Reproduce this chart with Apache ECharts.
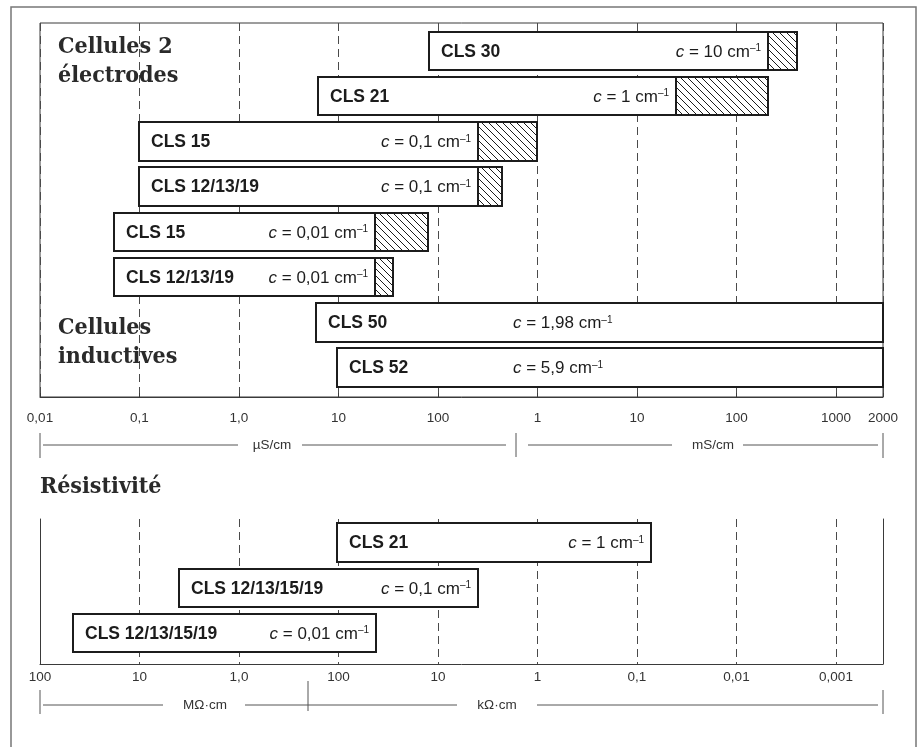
<!DOCTYPE html>
<html><head><meta charset="utf-8">
<script src="https://cdn.jsdelivr.net/npm/echarts@6/dist/echarts.min.js"></script>
<style>html,body{margin:0;padding:0;background:#fff}#c{width:919px;height:747px}</style>
</head><body><div id="c"></div>
<script>
// ================= DATA =================
// Conductivity panel (values in µS/cm)
const condCells      = ['CLS 30', 'CLS 21', 'CLS 15', 'CLS 12/13/19', 'CLS 15', 'CLS 12/13/19', 'CLS 50', 'CLS 52'];
const condConstants  = ['10', '1', '0,1', '0,1', '0,01', '0,01', '1,98', '5,9'];
const condLow        = [82, 6.2, 0.1, 0.1, 0.056, 0.056, 6.0, 9.7];
const condHatchStart = [209000, 24700, 250, 250, 23.4, 23.4, null, null];
const condHigh       = [403000, 209000, 1000, 437, 80, 35.5, 2970000, 2970000];
const condGroupTitles = [['Cellules 2', 'électrodes'], ['Cellules', 'inductives']];

const condTickValues = [0.01, 0.1, 1, 10, 100, 1000, 10000, 100000, 1000000];
const condTickLabels = ['0,01', '0,1', '1,0', '10', '100', '1', '10', '100', '1000'];
const condAxisMax    = 2970000;
const condEndLabel   = '2000';
const condUnitSplit  = 608;           // boundary between µS/cm and mS/cm brackets
const condUnits      = ['µS/cm', 'mS/cm'];

// Resistivity panel (values in kΩ·cm)
const resTitle       = 'Résistivité';
const resCells       = ['CLS 21', 'CLS 12/13/15/19', 'CLS 12/13/15/19'];
const resConstants   = ['1', '0,1', '0,01'];
const resHigh        = [103, 4000, 46600];
const resLow         = [0.072, 3.96, 42];
const resTickValues  = [100000, 10000, 1000, 100, 10, 1, 0.1, 0.01, 0.001];
const resTickLabels  = ['100', '10', '1,0', '100', '10', '1', '0,1', '0,01', '0,001'];
const resAxisMin     = 0.000337;
const resAxisMax     = 100000;
const resUnitSplit   = 203;
const resUnits       = ['MΩ·cm', 'kΩ·cm'];

// ================= STYLE =================
const FONT = '"Liberation Sans", Arial, Helvetica, sans-serif';
const SERIF = '"DejaVu Serif Condensed", "DejaVu Serif", serif';
const INK = '#1c1c1c';
const AXIS = '#3a3a3a';
const BAR_HALF = 0.425;
const HATCH_STEP = 7;
const INDUCTIVE_C_X = 513;

function tickFormatter(vals, labels, extraVal, extraLabel) {
  return function (v) {
    const lv = Math.log10(v);
    for (let i = 0; i < vals.length; i++) {
      if (Math.abs(lv - Math.log10(vals[i])) < 1e-4) return labels[i];
    }
    if (extraVal != null && Math.abs(lv - Math.log10(extraVal)) < 1e-3) return extraLabel;
    return '';
  };
}

function makeRender(names, consts, hatchStarts, noHatchMode) {
  return function (params, api) {
    const i = params.dataIndex;
    const row = api.value(2);
    const a = api.coord([api.value(0), row - BAR_HALF]);
    const b = api.coord([api.value(1), row + BAR_HALF]);
    const x0 = Math.round(Math.min(a[0], b[0])), x1 = Math.round(Math.max(a[0], b[0]));
    const y0 = Math.round(Math.min(a[1], b[1])), y1 = Math.round(Math.max(a[1], b[1]));
    const cy = (y0 + y1) / 2;
    const hs = hatchStarts ? hatchStarts[i] : null;
    const xh = hs != null ? Math.round(api.coord([hs, row])[0]) : x1;
    const children = [];
    children.push({ type: 'rect', shape: { x: x0, y: y0, width: x1 - x0, height: y1 - y0 },
      style: { fill: '#fff', stroke: null } });
    if (hs != null) {
      const h = y1 - y0;
      for (let t = xh - h; t < x1; t += HATCH_STEP) {
        const s0 = Math.max(0, xh - t), s1 = Math.min(h, x1 - t);
        if (s1 > s0) {
          children.push({ type: 'line', shape: { x1: t + s0, y1: y0 + s0, x2: t + s1, y2: y0 + s1 },
            style: { stroke: INK, lineWidth: 1 } });
        }
      }
      children.push({ type: 'line', shape: { x1: xh, y1: y0, x2: xh, y2: y1 },
        style: { stroke: INK, lineWidth: 2 } });
    }
    children.push({ type: 'rect', shape: { x: x0, y: y0, width: x1 - x0, height: y1 - y0 },
      style: { fill: null, stroke: INK, lineWidth: 2 } });
    children.push({ type: 'text', style: {
      text: names[i], x: x0 + 12, y: cy + 1, align: 'left', verticalAlign: 'middle',
      fontSize: 17.5, fontWeight: 'bold', fontFamily: FONT, fill: INK } });
    let cx, al;
    if (hs != null) { cx = xh - 7; al = 'right'; }
    else if (noHatchMode === 'fixed') { cx = INDUCTIVE_C_X; al = 'left'; }
    else { cx = x1 - 7; al = 'right'; }
    children.push({ type: 'text', style: {
      text: '{i|c}{n| = ' + consts[i] + ' cm}{s|–1}', x: cx, y: cy + 1, align: al, verticalAlign: 'middle',
      fill: INK, fontSize: 17, fontFamily: FONT,
      rich: {
        i: { fontStyle: 'italic', fontSize: 17, fontFamily: FONT, fill: INK },
        n: { fontSize: 17, fontFamily: FONT, fill: INK },
        s: { fontSize: 10, fontFamily: FONT, fill: INK, verticalAlign: 'top' }
      } } });
    return { type: 'group', children: children };
  };
}

const chart = echarts.init(document.getElementById('c'), null, { renderer: 'canvas' });

const dashed = { show: true, lineStyle: { color: '#4a4a4a', width: 1, type: [8, 5] } };

chart.setOption({
  animation: false,
  backgroundColor: '#fff',
  grid: [
    { left: 40, top: 23, width: 843, height: 374, show: true, borderColor: AXIS, borderWidth: 1,
      backgroundColor: 'transparent', outerBoundsMode: 'none', containLabel: false },
    { left: 40, top: 519, width: 843, height: 145, show: false, outerBoundsMode: 'none', containLabel: false }
  ],
  xAxis: [
    { gridIndex: 0, type: 'log', logBase: 10, min: 0.01, max: condAxisMax, splitNumber: 10,
      axisLine: { show: true, onZero: false, lineStyle: { color: AXIS, width: 1 } },
      axisTick: { show: true, inside: true, length: 4, lineStyle: { color: AXIS } },
      axisLabel: { show: true, margin: 14, fontSize: 13.5, fontFamily: FONT, color: '#333',
        showMinLabel: true, showMaxLabel: true, hideOverlap: false,
        formatter: tickFormatter(condTickValues, condTickLabels, condAxisMax, condEndLabel) },
      splitLine: dashed, minorTick: { show: false }, minorSplitLine: { show: false } },
    { gridIndex: 1, type: 'log', logBase: 10, inverse: true, min: resAxisMin, max: resAxisMax, splitNumber: 10,
      axisLine: { show: true, onZero: false, lineStyle: { color: AXIS, width: 1 } },
      axisTick: { show: false },
      axisLabel: { show: true, margin: 6, fontSize: 13.5, fontFamily: FONT, color: '#333',
        showMinLabel: true, showMaxLabel: true, hideOverlap: false,
        formatter: tickFormatter(resTickValues, resTickLabels) },
      splitLine: dashed }
  ],
  yAxis: [
    { gridIndex: 0, type: 'value', inverse: true, min: -0.62, max: 7.65, show: false },
    { gridIndex: 1, type: 'value', inverse: true, min: -0.52, max: 2.68, position: 'left',
      axisLine: { show: true, onZero: false, lineStyle: { color: AXIS, width: 1 } }, axisTick: { show: false },
      axisLabel: { show: false }, splitLine: { show: false } },
    { gridIndex: 1, type: 'value', inverse: true, min: -0.52, max: 2.68, position: 'right',
      axisLine: { show: true, onZero: false, lineStyle: { color: AXIS, width: 1 } }, axisTick: { show: false },
      axisLabel: { show: false }, splitLine: { show: false } }
  ],
  series: [
    { type: 'custom', xAxisIndex: 0, yAxisIndex: 0, clip: false,
      data: condCells.map((n, i) => [condLow[i], condHigh[i], i]),
      encode: { x: [0, 1], y: 2 },
      renderItem: makeRender(condCells, condConstants, condHatchStart, 'fixed') },
    { type: 'custom', xAxisIndex: 1, yAxisIndex: 1, clip: false,
      data: resCells.map((n, i) => [resHigh[i], resLow[i], i]),
      encode: { x: [0, 1], y: 2 },
      renderItem: makeRender(resCells, resConstants, null, 'end') }
  ]
});

// ---- annotations: titles, unit brackets, frame ----
const px0 = v => chart.convertToPixel({ xAxisIndex: 0 }, v);
const px1 = v => chart.convertToPixel({ xAxisIndex: 1 }, v);
const LINE = { stroke: '#555', lineWidth: 1 };
function seg(x1, y1, x2, y2) { return { type: 'line', shape: { x1, y1, x2, y2 }, style: LINE, silent: true }; }
function label(text, x, y) {
  return { type: 'text', x: x, y: y, style: { text, align: 'center', verticalAlign: 'middle',
    fontSize: 13.5, fontFamily: FONT, fill: '#333' }, silent: true };
}
function title(text, x, y) {
  return { type: 'text', x: x, y: y, style: { text, align: 'left', verticalAlign: 'middle',
    fontSize: 23, fontWeight: 'bold', fontFamily: SERIF, fill: '#2a2a2a' }, silent: true };
}

const tL = Math.round(px0(0.01)), tS = Math.round(px0(condUnitSplit)), tR = Math.round(px0(condAxisMax));
const bL = Math.round(px1(resAxisMax)), bS = Math.round(px1(resUnitSplit)), bR = Math.round(px1(resAxisMin));
const yT = 445, yB = 705;

chart.setOption({
  graphic: [
    { type: 'rect', shape: { x: 11, y: 7, width: 905, height: 760 }, style: { fill: null, stroke: '#777', lineWidth: 1.5 }, silent: true },
    title(condGroupTitles[0][0], 58, 47),
    title(condGroupTitles[0][1], 58, 76),
    title(condGroupTitles[1][0], 58, 328),
    title(condGroupTitles[1][1], 58, 357),
    title(resTitle, 40, 487),
    // conductivity unit brackets
    seg(tL, 433, tL, 458), seg(tS, 433, tS, 457), seg(tR, 433, tR, 458),
    seg(tL + 3, yT, 238, yT), label(condUnits[0], 272, yT), seg(302, yT, tS - 10, yT),
    seg(tS + 12, yT, 672, yT), label(condUnits[1], 713, yT), seg(743, yT, tR - 5, yT),
    // resistivity unit brackets
    seg(bL, 690, bL, 714), seg(bS, 681, bS, 711), seg(bR, 690, bR, 714),
    seg(bL + 3, yB, 163, yB), label(resUnits[0], 205, yB), seg(245, yB, 457, yB),
    label(resUnits[1], 497, yB), seg(537, yB, bR - 5, yB)
  ]
});
</script>
</body></html>
